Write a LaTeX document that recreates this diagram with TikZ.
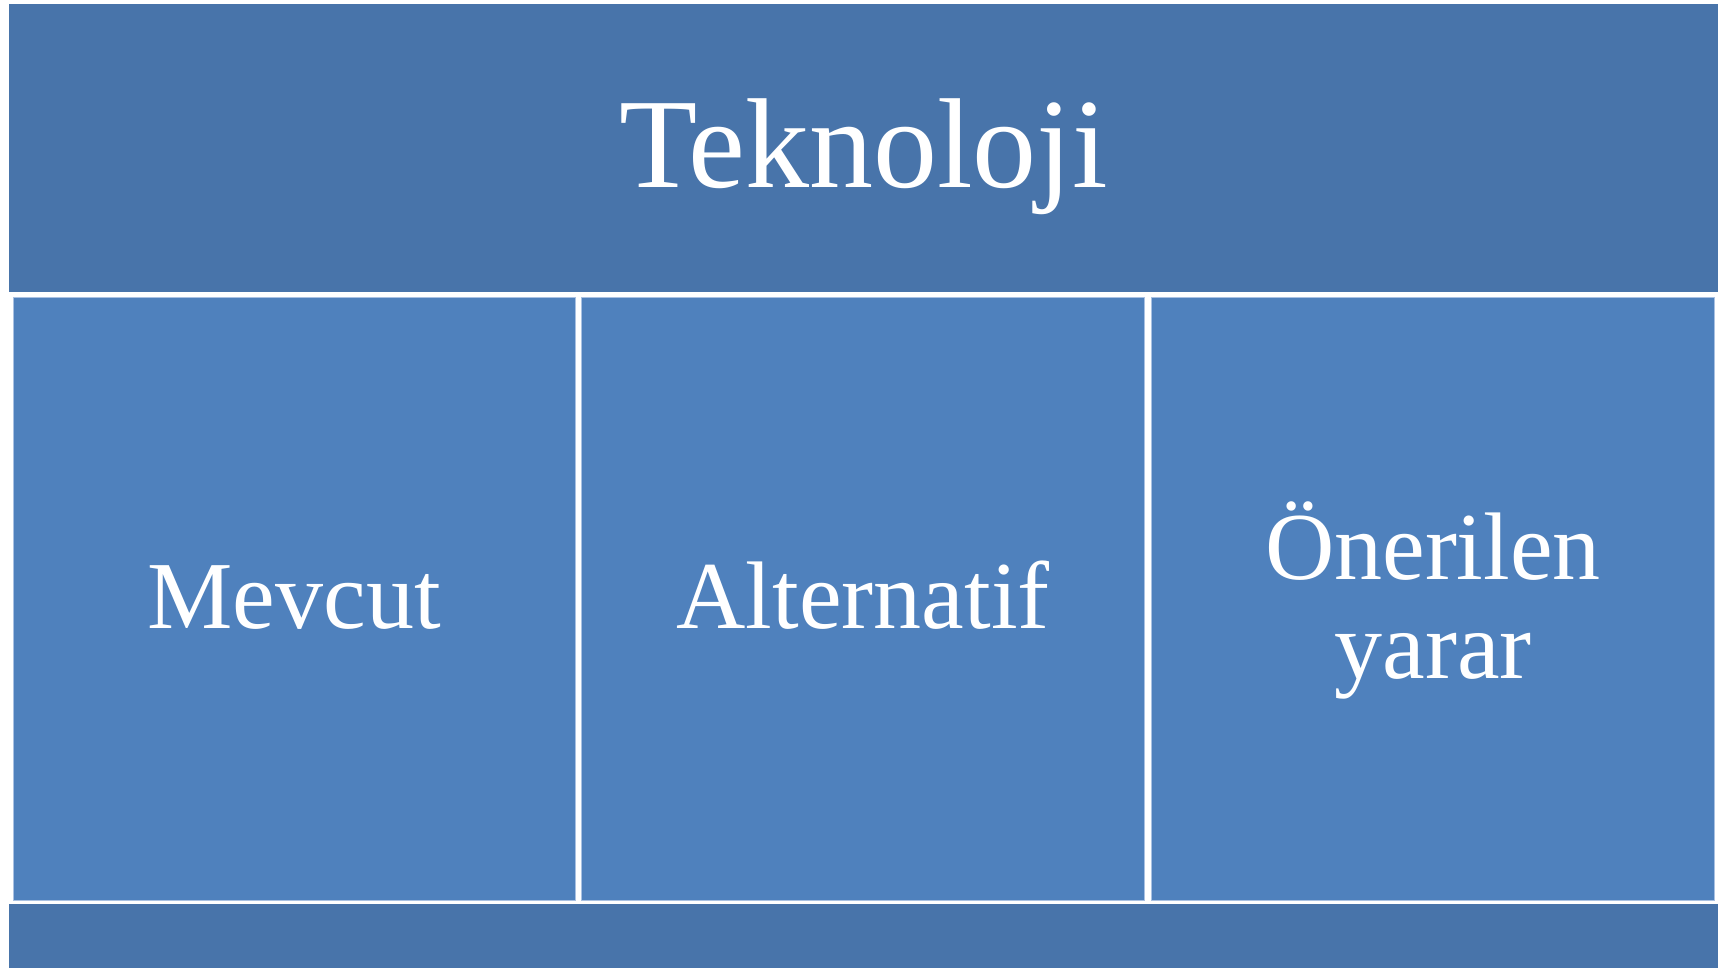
\documentclass[tikz,border=0pt]{standalone}
\usepackage{fontspec}
\setmainfont{Liberation Serif}
\definecolor{bandblue}{HTML}{4874AA}
\definecolor{cellblue}{HTML}{4F81BD}
\definecolor{celledge}{HTML}{A9C1E2}
\begin{document}
\begin{tikzpicture}[x=1pt,y=-1pt,
  band/.style={fill=bandblue,draw=none,inner sep=0pt,minimum width=1709pt},
  cell/.style={fill=cellblue,draw=celledge,line width=0.8pt,inner sep=0pt,
    minimum width=562.5pt,minimum height=603pt},
  bigtext/.style={text=white,inner sep=0pt,anchor=base,font=\fontsize{128}{150}\selectfont},
  celltext/.style={text=white,inner sep=0pt,anchor=base,font=\fontsize{96}{99}\selectfont,align=center}]
  \useasboundingbox (0,0) rectangle (1723,967);
  % header band and footer strip
  \node[band,minimum height=287.5pt] (head) at (863.5,147.8) {};
  \node[band,minimum height=64pt] (foot) at (863.5,936) {};
  % three cells
  \node[cell] (c1) at (294.25,599) {};
  \node[cell] (c2) at (863,599) {};
  \node[cell] (c3) at (1433,599) {};
  % labels
  \node[bigtext] (t0) at (863.5,187.3) {Teknoloji};
  \node[celltext] (t1) at (294.25,628.3) {Mevcut};
  \node[celltext] (t2) at (863,628.3) {Alternatif};
  \node[celltext] (t3a) at (1433,579.3) {Önerilen};
  \node[celltext] (t3b) at (1433,678.3) {yarar};
\end{tikzpicture}
\end{document}
